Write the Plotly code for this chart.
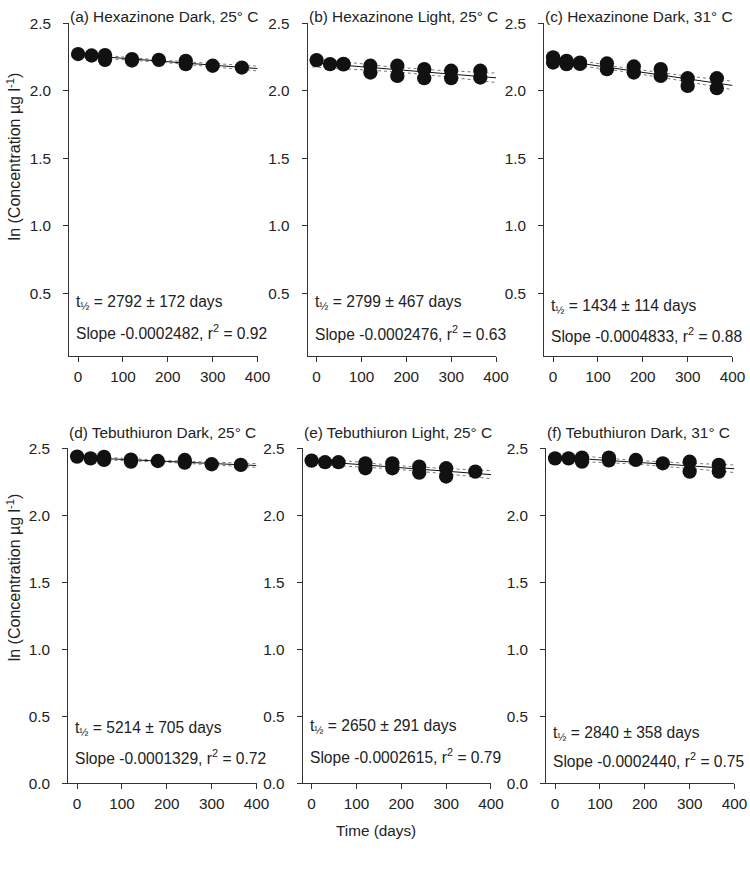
import numpy as np
import plotly.graph_objects as go

# calibrated mapping from window pixels to figure pixels
K = 0.981          # apparent scale of the photographed page
OYS = 8.6          # vertical offset of the page in the photograph
W, H = 765, 883


def fx(px):
    return (px / K) / W


def fy(py):
    return 1 - ((py - OYS) / K) / H


days = [0, 30, 60, 120, 180, 240, 300, 365]

# replicate ln-concentration values at each sampling day
hex_dark_25 = [[2.273], [2.262], [2.265, 2.230], [2.235, 2.225], [2.230], [2.223, 2.198], [2.186], [2.173]]
hex_light_25 = [[2.228], [2.198], [2.200, 2.196], [2.186, 2.136], [2.186, 2.111], [2.161, 2.094], [2.149, 2.094], [2.149, 2.099]]
hex_dark_31 = [[2.248, 2.210], [2.223, 2.198], [2.210, 2.200], [2.203, 2.161], [2.181, 2.136], [2.161, 2.111], [2.094, 2.037], [2.094, 2.020]]
teb_dark_25 = [[2.438], [2.425], [2.436, 2.413], [2.416, 2.400], [2.405], [2.413, 2.393], [2.381], [2.376]]
teb_light_25 = [[2.408], [2.396], [2.396], [2.388, 2.351], [2.388, 2.351], [2.363, 2.318], [2.351, 2.289], [2.326]]
teb_dark_31 = [[2.425], [2.425], [2.430, 2.400], [2.430, 2.410], [2.413], [2.388], [2.400, 2.326], [2.376, 2.326]]

titles = ["(a) Hexazinone Dark, 25° C", "(b) Hexazinone Light, 25° C", "(c) Hexazinone Dark, 31° C",
          "(d) Tebuthiuron Dark, 25° C", "(e) Tebuthiuron Light, 25° C", "(f) Tebuthiuron Dark, 31° C"]
half_lives = ["2792 ± 172", "2799 ± 467", "1434 ± 114", "5214 ± 705", "2650 ± 291", "2840 ± 358"]
slopes = ["-0.0002482", "-0.0002476", "-0.0004833", "-0.0001329", "-0.0002615", "-0.0002440"]
r2s = ["0.92", "0.63", "0.88", "0.72", "0.79", "0.75"]
panels = [hex_dark_25, hex_light_25, hex_dark_31, teb_dark_25, teb_light_25, teb_dark_31]

x_ticks = [0, 100, 200, 300, 400]

# layout geometry (window pixels)
x_px = [(69, 257), (307, 495), (543, 731), (68, 256), (302, 490), (545, 733)]
top_px = [(23, 356)] * 3 + [(448, 783)] * 3
yranges = [[0.033, 2.5]] * 3 + [[0.0, 2.5]] * 3
title_y = [16.5, 16.5, 16.5, 432, 432, 432]
t_half_y = [302, 302, 306, 728, 726, 733]
slope_y = [332, 333, 335, 757, 756, 760]

FONT = "Liberation Sans, Arial, sans-serif"
TXT = "#222222"

fig = go.Figure()
annotations = []
layout = {}

for i, vals in enumerate(panels):
    n = i + 1
    xa = "x" if n == 1 else f"x{n}"
    ya = "y" if n == 1 else f"y{n}"
    xs, ys = [], []
    for d, reps in zip(days, vals):
        for v in reps:
            xs.append(d)
            ys.append(v)
    xs = np.array(xs, float)
    ys = np.array(ys, float)
    b, a = np.polyfit(xs, ys, 1)
    xg = np.linspace(-10, 400, 60)
    yfit = a + b * xg
    resid = ys - (a + b * xs)
    nn = len(xs)
    s = np.sqrt(np.sum(resid ** 2) / (nn - 2))
    sxx = np.sum((xs - xs.mean()) ** 2)
    se = s * np.sqrt(1 / nn + (xg - xs.mean()) ** 2 / sxx)
    half = 2.05 * se

    for yy in (yfit + half, yfit - half):
        fig.add_trace(go.Scatter(x=xg, y=yy, mode="lines", xaxis=xa, yaxis=ya,
                                 line=dict(color="#777777", width=1, dash="dot"), showlegend=False,
                                 hoverinfo="skip"))
    fig.add_trace(go.Scatter(x=xg, y=yfit, mode="lines", xaxis=xa, yaxis=ya,
                             line=dict(color="#111111", width=1), showlegend=False))
    fig.add_trace(go.Scatter(x=xs, y=ys, mode="markers", xaxis=xa, yaxis=ya,
                             marker=dict(size=14.3, color="#111111"), showlegend=False))

    x0, x1 = x_px[i]
    yt, yb = top_px[i]
    layout[f"xaxis{'' if n == 1 else n}"] = dict(
        domain=[fx(x0), fx(x1)], range=[-20, 400], anchor=ya,
        tickvals=x_ticks, ticks="outside", ticklen=5, tickcolor="#333",
        showline=True, linecolor="#333", linewidth=1, showgrid=False, zeroline=False,
        ticklabelstandoff=1,
        tickfont=dict(family=FONT, size=15.3, color=TXT))
    layout[f"yaxis{'' if n == 1 else n}"] = dict(
        domain=[fy(yb), fy(yt)], range=yranges[i], anchor=xa,
        dtick=0.5, tick0=0, tickformat=".1f", ticks="outside", ticklen=5, tickcolor="#333",
        showline=True, linecolor="#333", linewidth=1, showgrid=False, zeroline=False,
        ticklabelstandoff=9,
        tickfont=dict(family=FONT, size=15.3, color=TXT))

    annotations.append(dict(text=titles[i], x=fx(x0 - 1), y=fy(title_y[i]), xref="paper", yref="paper",
                            xanchor="left", yanchor="middle", showarrow=False,
                            font=dict(family=FONT, size=15.4, color=TXT)))
    annotations.append(dict(text=f"t<sub>½</sub> = {half_lives[i]} days", x=fx(x0 + 5),
                            y=fy(t_half_y[i]), xref="paper", yref="paper",
                            xanchor="left", yanchor="middle", showarrow=False,
                            font=dict(family=FONT, size=15.6, color=TXT)))
    annotations.append(dict(text=f"Slope {slopes[i]}, r<sup>2</sup> = {r2s[i]}", x=fx(x0 + 5),
                            y=fy(slope_y[i]), xref="paper", yref="paper",
                            xanchor="left", yanchor="middle", showarrow=False,
                            font=dict(family=FONT, size=15.6, color=TXT)))

for yc in (156, 577):
    annotations.append(dict(text="ln (Concentration µg l<sup>-1</sup>)", x=fx(14), y=fy(yc),
                            xref="paper", yref="paper", xanchor="center", yanchor="middle",
                            textangle=-90, showarrow=False,
                            font=dict(family=FONT, size=16, color=TXT)))
annotations.append(dict(text="Time (days)", x=fx(375), y=fy(830), xref="paper", yref="paper",
                        xanchor="center", yanchor="middle", showarrow=False,
                        font=dict(family=FONT, size=15.3, color=TXT)))

fig.update_layout(width=W, height=H, margin=dict(l=0, r=0, t=0, b=0),
                  paper_bgcolor="white", plot_bgcolor="white",
                  annotations=annotations, **layout)

pin_script = (
    "var gd = document.getElementById('{plot_id}');"
    "gd.style.position = 'absolute'; gd.style.left = '0px'; gd.style.top = '0px';"
    "document.body.style.margin = '0px'; document.body.style.overflow = 'hidden';"
)
fig.write_html("out.html", config={"displayModeBar": False}, post_script=pin_script)
